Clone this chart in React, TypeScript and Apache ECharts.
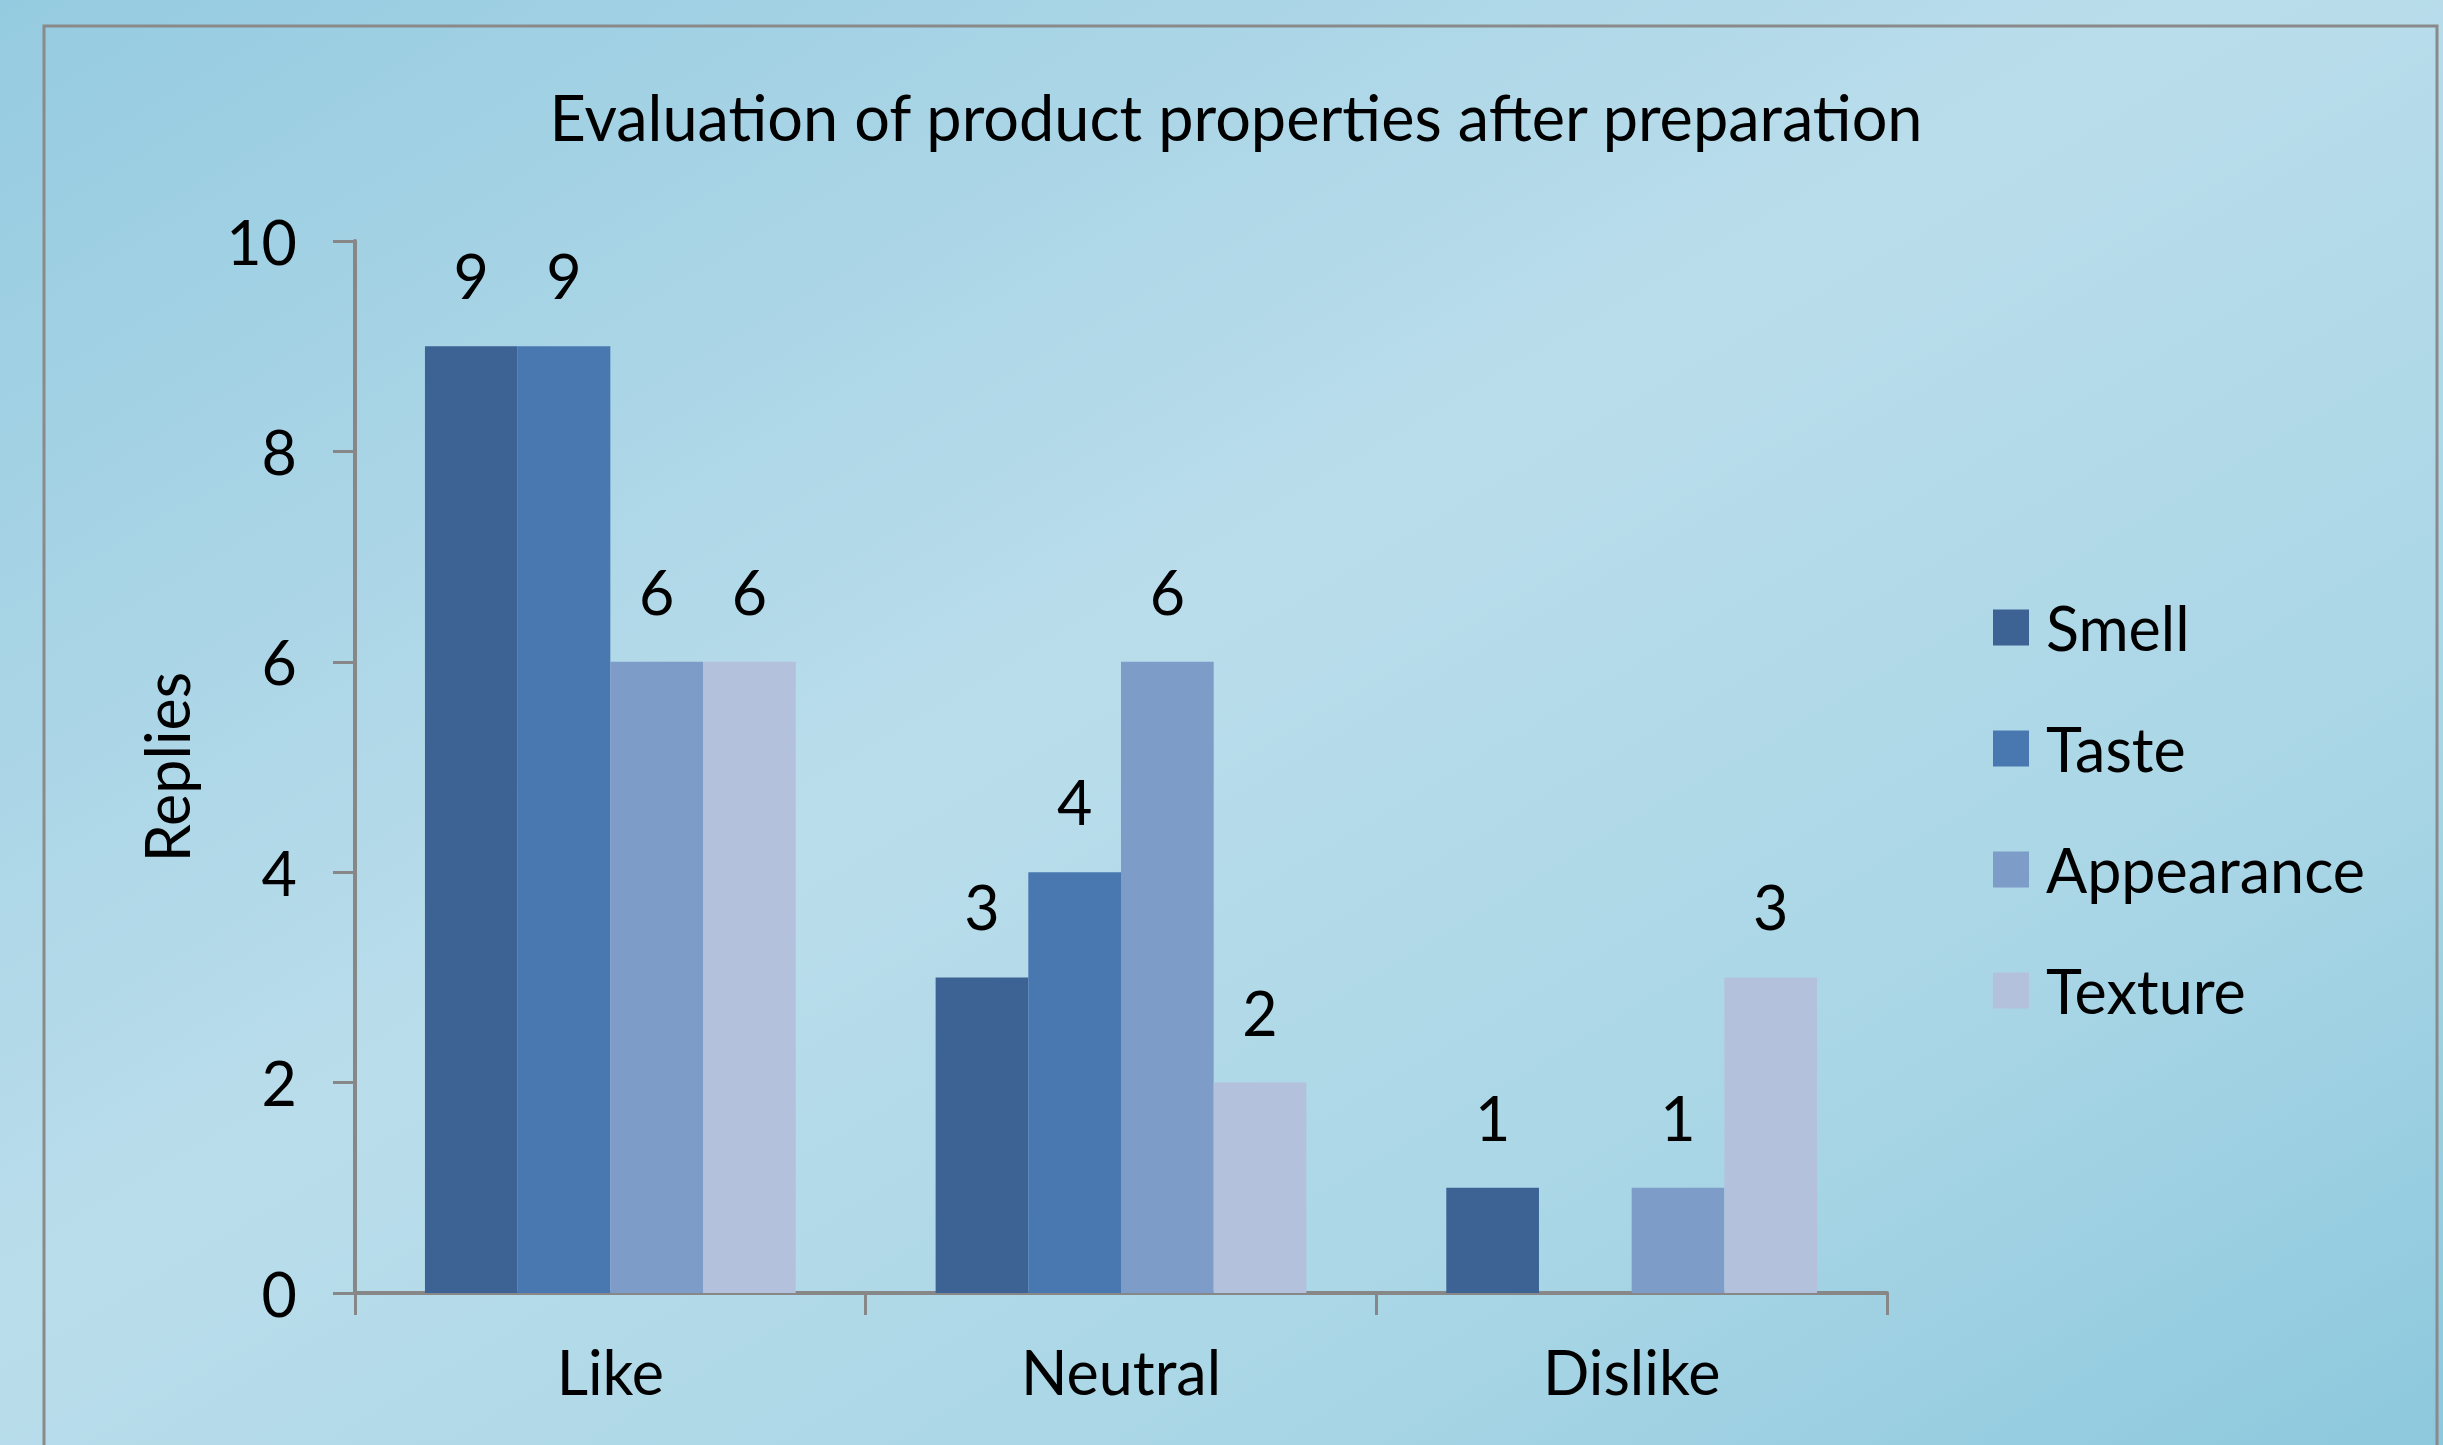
import React, { useEffect, useRef } from "react";
import * as echarts from "echarts";

const categories = ["Like", "Neutral", "Dislike"];
const seriesNames = ["Smell", "Taste", "Appearance", "Texture"];
const smell = [9, 3, 1];
const taste = [9, 4, 0];
const appearance = [6, 6, 1];
const texture = [6, 2, 3];
const yTicks = [0, 2, 4, 6, 8, 10];
const colors = ["#3D6394", "#4878AF", "#7E9CC8", "#B3C1DC"];

const FONT = "Lato";
const FS = 61;

export default function App() {
  const ref = useRef<HTMLDivElement>(null);
  useEffect(() => {
    if (!ref.current) return;
    const chart = echarts.init(ref.current, undefined, { renderer: "svg" });
    const values = [smell, taste, appearance, texture];
    chart.setOption({
      animation: false,
      backgroundColor: {
        type: "linear",
        x: 0,
        y: 0,
        x2: 1,
        y2: 1,
        colorStops: [
          { offset: 0, color: "#95CBE0" },
          { offset: 0.45, color: "#BADDEB" },
          { offset: 0.75, color: "#A9D6E6" },
          { offset: 1, color: "#8DC8DD" },
        ],
      },
      textStyle: { fontFamily: FONT, color: "#000" },
      title: {
        text: "Evaluation of product properties after preparation",
        left: 1231,
        textAlign: "center",
        top: 80,
        textStyle: { fontFamily: FONT, fontSize: 63, fontWeight: "normal", color: "#000" },
      },
      graphic: [
        {
          type: "rect",
          shape: { x: 44, y: 26, width: 2393, height: 1500 },
          style: { fill: "none", stroke: "#8A8A8A", lineWidth: 3 },
          silent: true,
        },
      ],
      legend: {
        orient: "vertical",
        left: 1988,
        top: 592,
        itemWidth: 36,
        itemHeight: 36,
        itemGap: 60,
        icon: "rect",
        textStyle: { fontFamily: FONT, fontSize: FS, color: "#000", padding: [0, 0, 0, 12] },
        data: seriesNames,
      },
      grid: { left: 355, right: 556, top: 241, bottom: 152 },
      xAxis: {
        type: "category",
        data: categories,
        axisLine: { lineStyle: { color: "#878787", width: 4 } },
        axisTick: { show: true, length: 22, lineStyle: { color: "#878787", width: 3 } },
        axisLabel: { fontFamily: FONT, fontSize: FS, color: "#000", margin: 48 },
      },
      yAxis: {
        type: "value",
        min: 0,
        max: 10,
        interval: 2,
        name: "Replies",
        nameLocation: "middle",
        nameGap: 158,
        nameTextStyle: { fontFamily: FONT, fontSize: FS, color: "#000" },
        axisLine: { show: true, lineStyle: { color: "#878787", width: 4 } },
        axisTick: { show: true, length: 22, lineStyle: { color: "#878787", width: 3 } },
        splitLine: { show: false },
        axisLabel: {
          fontFamily: FONT,
          fontSize: FS,
          color: "#000",
          margin: 58,
          formatter: (v: number) => (yTicks.includes(v) ? String(v) : ""),
        },
      },
      series: seriesNames.map((name, i) => ({
        name,
        type: "bar",
        data: values[i],
        barGap: "0%",
        barCategoryGap: "27.4%",
        itemStyle: { color: colors[i] },
        label: {
          show: true,
          position: "top",
          distance: 40,
          fontFamily: FONT,
          fontSize: FS,
          color: "#000",
          formatter: (p: any) => (p.value === 0 ? "" : String(p.value)),
        },
      })),
    });
    return () => chart.dispose();
  }, []);
  return (
    <div
      ref={ref}
      style={{ position: "fixed", left: 0, top: 0, width: 2443, height: 1445 }}
    />
  );
}
